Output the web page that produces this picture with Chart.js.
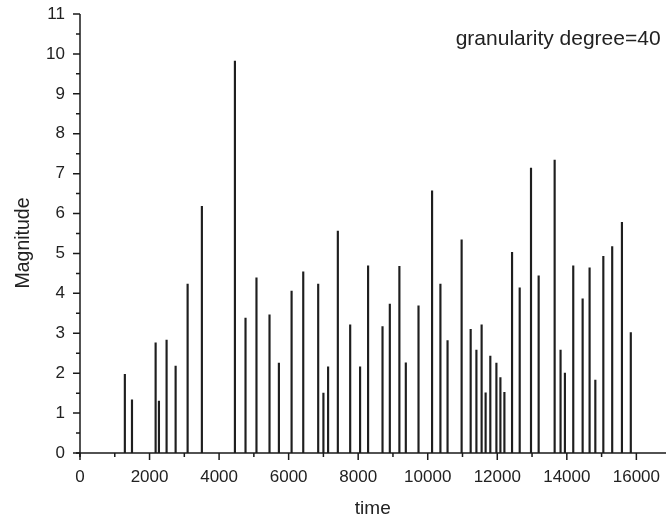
<!DOCTYPE html>
<html>
<head>
<meta charset="utf-8">
<script src="https://cdn.jsdelivr.net/npm/chart.js@4/dist/chart.umd.min.js"></script>
<style>
  html, body { margin: 0; padding: 0; background: #fff; }
  #wrap { width: 666px; height: 520px; }
</style>
</head>
<body>
<div id="wrap"><canvas id="chart" width="666" height="520"></canvas></div>
<script>
'use strict';

// event times and their magnitudes
var times = [1290, 1495, 2175, 2270, 2490, 2750, 3095, 3505, 4455, 4760,
  5075, 5450, 5720, 6085, 6420, 6850, 7000, 7135, 7415, 7770,
  8055, 8285, 8700, 8910, 9185, 9370, 9735, 10125, 10365, 10570,
  10975, 11235, 11400, 11550, 11665, 11800, 11975, 12090, 12205, 12425,
  12645, 12970, 13190, 13650, 13820, 13945, 14185, 14455, 14655, 14820,
  15050, 15305, 15585, 15840];
var magnitudes = [1.97, 1.33, 2.76, 1.30, 2.83, 2.18, 4.23, 6.18, 9.82, 3.38,
  4.39, 3.46, 2.25, 4.06, 4.54, 4.23, 1.50, 2.16, 5.56, 3.21,
  2.16, 4.69, 3.17, 3.73, 4.68, 2.26, 3.69, 6.57, 4.23, 2.82,
  5.34, 3.10, 2.58, 3.21, 1.51, 2.43, 2.25, 1.89, 1.52, 5.03,
  4.14, 7.14, 4.44, 7.34, 2.58, 2.00, 4.69, 3.86, 4.64, 1.83,
  4.93, 5.17, 5.78, 3.02];

var xTicks = [0, 2000, 4000, 6000, 8000, 10000, 12000, 14000, 16000];
var yTicks = [0, 1, 2, 3, 4, 5, 6, 7, 8, 9, 10, 11];
var yTitle = 'Magnitude';
var note = 'granularity degree=40';

var points = [];
for (var i = 0; i < times.length; i++) {
  points.push({ x: times[i], y: magnitudes[i] });
}

var font = '"Liberation Sans", Arial, Helvetica, sans-serif';

// axis lines + major / minor ticks, drawn from the scales
var axesPlugin = {
  id: 'axesPlugin',
  afterDraw: function (chart) {
    var c = chart.ctx;
    var xs = chart.scales.x;
    var ys = chart.scales.y;
    var area = chart.chartArea;
    var x0 = xs.getPixelForValue(0);
    var y0 = ys.getPixelForValue(0);
    c.save();
    c.strokeStyle = '#1a1a1a';
    c.lineWidth = 1.5;
    c.beginPath();
    c.moveTo(x0 - 4, y0);
    c.lineTo(chart.width, y0);
    c.moveTo(x0, area.top);
    c.lineTo(x0, y0 + 4);
    c.stroke();

    c.beginPath();
    for (var v = 0; v <= 16000; v += 1000) {
      var px = xs.getPixelForValue(v);
      var len = (v % 2000 === 0) ? 7 : 4;
      c.moveTo(px, y0);
      c.lineTo(px, y0 + len);
    }
    for (var k = 0; k <= 22; k++) {
      var py = ys.getPixelForValue(k / 2);
      var l = (k % 2 === 0) ? 7 : 4;
      c.moveTo(x0, py);
      c.lineTo(x0 - l, py);
    }
    c.stroke();

    c.fillStyle = '#222';
    c.font = '21px ' + font;
    c.textAlign = 'right';
    c.textBaseline = 'alphabetic';
    c.fillText(note, area.right - 5, 45);

    // y title, a little below the middle like the original
    c.translate(24, 243);
    c.rotate(-Math.PI / 2);
    c.font = '19.5px ' + font;
    c.textAlign = 'center';
    c.textBaseline = 'middle';
    c.fillText(yTitle, 0, 0);
    c.restore();
  }
};

var ctx = document.getElementById('chart').getContext('2d');

new Chart(ctx, {
  type: 'bar',
  data: {
    datasets: [{
      label: 'Magnitude',
      data: points,
      backgroundColor: '#1e1e1e',
      borderWidth: 0,
      barThickness: 1.5
    }]
  },
  options: {
    responsive: false,
    animation: false,
    events: [],
    layout: { padding: { top: 14, right: 0, left: 0, bottom: 0 } },
    plugins: {
      legend: { display: false },
      tooltip: { enabled: false }
    },
    scales: {
      x: {
        type: 'linear',
        offset: false,
        min: 0,
        max: 16840,
        grid: { display: false },
        border: { display: false },
        afterBuildTicks: function (scale) {
          scale.ticks = xTicks.map(function (v) { return { value: v }; });
        },
        afterFit: function (scale) { scale.height = 67; },
        ticks: {
          color: '#222',
          padding: 6,
          maxRotation: 0,
          autoSkip: false,
          font: { family: font, size: 17 },
          callback: function (v) { return String(v); }
        },
        title: {
          display: true,
          text: 'time',
          color: '#222',
          font: { family: font, size: 19 },
          padding: { top: 6, bottom: 0 }
        }
      },
      y: {
        min: 0,
        max: 11,
        grid: { display: false },
        border: { display: false },
        afterBuildTicks: function (scale) {
          scale.ticks = yTicks.map(function (v) { return { value: v }; });
        },
        afterFit: function (scale) { scale.width = 80; },
        ticks: {
          color: '#222',
          padding: 7,
          font: { family: font, size: 17, lineHeight: 0.8 }
        }
      }
    }
  },
  plugins: [axesPlugin]
});
</script>
</body>
</html>
